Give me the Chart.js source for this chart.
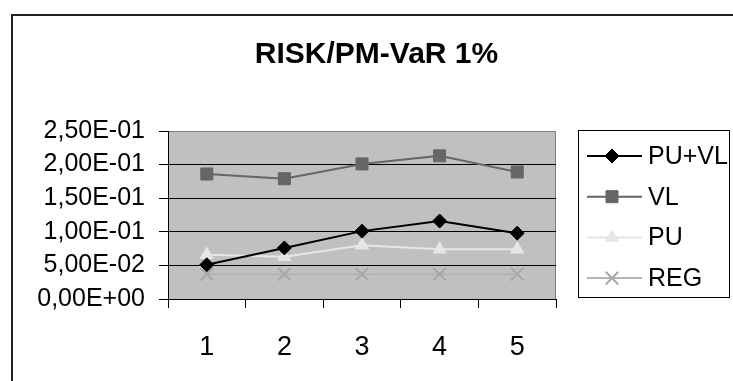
<!DOCTYPE html>
<html>
<head>
<meta charset="utf-8">
<script src="https://cdn.jsdelivr.net/npm/chart.js@4/dist/chart.umd.min.js"></script>
<style>
  html, body { margin: 0; padding: 0; background: #fff; }
  #wrap { width: 733px; height: 381px; position: relative; }
</style>
</head>
<body>
<div id="wrap"><canvas id="chart"></canvas></div>
<script>
const TITLE = "RISK/PM-VaR 1%";
const categories = ["1", "2", "3", "4", "5"];
const seriesNames = ["PU+VL", "VL", "PU", "REG"];
const puvl = [0.051, 0.076, 0.101, 0.116, 0.098];
const vl = [0.186, 0.179, 0.201, 0.213, 0.189];
const pu = [0.066, 0.063, 0.080, 0.074, 0.074];
const reg = [0.037, 0.037, 0.037, 0.037, 0.037];
const yTicks = [0, 0.05, 0.10, 0.15, 0.20, 0.25];

const FONT = "'Liberation Sans', Arial, sans-serif";

function fmtSci(v) {
  const [m, e] = v.toExponential(2).split("e");
  const n = parseInt(e, 10);
  return m.replace(".", ",") + "E" + (n < 0 ? "-" : "+") + String(Math.abs(n)).padStart(2, "0");
}

const frame = {
  id: "frame",
  beforeDraw(chart) {
    const { ctx, chartArea: a } = chart;
    ctx.save();
    ctx.strokeStyle = "#222"; ctx.lineWidth = 2;
    ctx.beginPath(); ctx.moveTo(12, 381); ctx.lineTo(12, 15); ctx.lineTo(733, 15); ctx.stroke();
    ctx.fillStyle = "#c0c0c0";
    ctx.fillRect(a.left, a.top, a.right - a.left, a.bottom - a.top);
    ctx.strokeStyle = "#808080"; ctx.lineWidth = 1;
    ctx.strokeRect(a.left + 0.5, a.top + 0.5, a.right - a.left - 1, a.bottom - a.top);
    ctx.fillStyle = "#000"; ctx.font = `bold 30px ${FONT}`;
    ctx.textAlign = "center"; ctx.textBaseline = "alphabetic";
    ctx.fillText(TITLE, 376.5, 62.5);
    ctx.restore();
  },
  afterDraw(chart) {
    const { ctx } = chart;
    ctx.save();
    ctx.strokeStyle = "#000"; ctx.lineWidth = 1;
    ctx.strokeRect(578.5, 130.5, 151, 167);
    chart.data.datasets.forEach((ds, i) => {
      const y = 156 + i * 40.7;
      const pt = { pointStyle: ds.pointStyle, radius: ds.pointRadius, rotation: 0, borderWidth: ds.pointBorderWidth || 1 };
      ctx.strokeStyle = ds.borderColor; ctx.lineWidth = ds.borderWidth;
      ctx.beginPath(); ctx.moveTo(587, y); ctx.lineTo(642, y); ctx.stroke();
      ctx.fillStyle = ds.pointBackgroundColor; ctx.strokeStyle = ds.pointBorderColor;
      ctx.lineWidth = pt.borderWidth;
      Chart.helpers.drawPoint(ctx, pt, 612, y);
      ctx.fillStyle = "#000"; ctx.font = `25px ${FONT}`;
      ctx.textAlign = "left"; ctx.textBaseline = "middle";
      ctx.fillText(ds.label, 648, y + 1);
    });
    ctx.restore();
  }
};

function ds(label, data, color, style, radius, markColor) {
  return {
    label, data, borderColor: color, borderWidth: 2, pointStyle: style, pointRadius: radius,
    pointBackgroundColor: markColor, pointBorderColor: markColor, pointBorderWidth: style === "crossRot" ? 2 : 1,
    tension: 0, fill: false
  };
}

new Chart(document.getElementById("chart"), {
  type: "line",
  data: {
    labels: categories,
    datasets: [
      ds(seriesNames[0], puvl, "#000000", "rectRot", 7, "#000000"),
      ds(seriesNames[1], vl, "#666666", "rect", 8.5, "#666666"),
      ds(seriesNames[2], pu, "#e6e6e6", "triangle", 7.5, "#e6e6e6"),
      ds(seriesNames[3], reg, "#b4b4b4", "crossRot", 9, "#a8a8a8")
    ]
  },
  options: {
    responsive: true, maintainAspectRatio: false, animation: false,
    layout: { padding: { left: 12, top: 131, right: 177, bottom: 0 } },
    plugins: { legend: { display: false }, title: { display: false }, tooltip: { enabled: false } },
    scales: {
      x: {
        offset: true,
        grid: { offset: true, drawOnChartArea: false, color: "#000", tickLength: 9 },
        border: { color: "#000", width: 1 },
        ticks: { color: "#000", font: { family: FONT, size: 27 }, padding: 23, maxRotation: 0 },
        afterFit: s => { s.height = 82; }
      },
      y: {
        min: 0, max: 0.25,
        afterBuildTicks: s => { s.ticks = yTicks.map(v => ({ value: v })); },
        grid: { color: c => (c.tick && c.tick.value >= 0.25 ? "#808080" : "#000"), tickLength: 9, tickColor: "#000" },
        border: { color: "#000", width: 1 },
        ticks: { color: "#000", font: { family: FONT, size: 25 }, padding: 14, callback: v => fmtSci(v) },
        afterFit: s => { s.width = 156; }
      }
    }
  },
  plugins: [frame]
});
</script>
</body>
</html>
